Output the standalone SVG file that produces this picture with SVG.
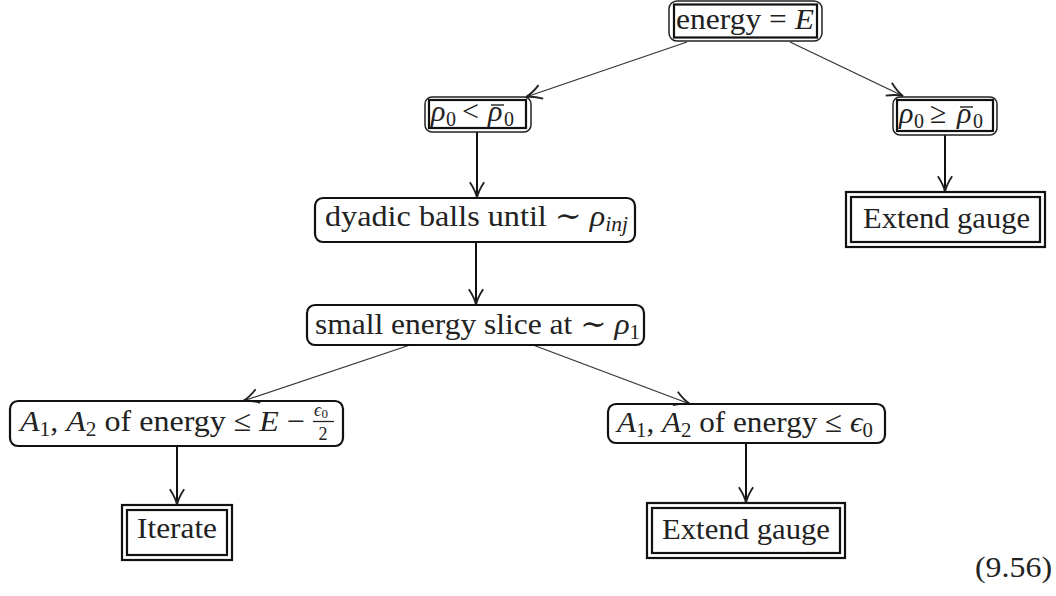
<svg xmlns="http://www.w3.org/2000/svg" width="1056" height="596" viewBox="0 0 1056 596">
<style>
text{font-family:"Liberation Serif","DejaVu Serif",serif;font-size:30px;fill:#222}
.i{font-style:italic}
.s{font-size:20px}
.f{font-size:18px}
.o{fill:none;stroke:#222;stroke-width:1.5}
.in{fill:none;stroke:#111;stroke-width:2.2}
.b{fill:none;stroke:#111;stroke-width:2.2}
.c{fill:none;stroke:#333;stroke-width:1.3}
.v{fill:none;stroke:#111;stroke-width:2}
.bar{stroke:#222;stroke-width:1.4}
</style>
<defs>
<marker id="ah" markerUnits="userSpaceOnUse" markerWidth="20" markerHeight="20" refX="0" refY="0" viewBox="-12 -7 14 14" orient="auto" overflow="visible">
<path d="M-11,-5 Q-5,-1 0,0 Q-5,1 -11,5" fill="none" stroke="#222" stroke-width="1.3"/>
</marker>
</defs>
<g id="connectors">
<line class="c" x1="687" y1="42" x2="526" y2="97" marker-end="url(#ah)"/>
<line class="c" x1="790" y1="42" x2="903" y2="96" marker-end="url(#ah)"/>
<line class="v" x1="477" y1="132" x2="477" y2="198" marker-end="url(#ah)"/>
<line class="v" x1="476" y1="242" x2="476" y2="305" marker-end="url(#ah)"/>
<line class="v" x1="945" y1="135" x2="945" y2="192" marker-end="url(#ah)"/>
<line class="c" x1="410" y1="345" x2="243" y2="401" marker-end="url(#ah)"/>
<line class="c" x1="533" y1="345" x2="690" y2="404" marker-end="url(#ah)"/>
<line class="v" x1="177" y1="446" x2="177" y2="505" marker-end="url(#ah)"/>
<line class="v" x1="746" y1="443" x2="746" y2="503" marker-end="url(#ah)"/>
</g>
<g id="n-energy">
<rect class="o" x="669" y="1" width="153" height="40" rx="8"/>
<rect class="in" x="674" y="4.5" width="143" height="33"/>
<text x="676" y="29" textLength="138" lengthAdjust="spacingAndGlyphs">energy = <tspan class="i">E</tspan></text>
</g>
<g id="n-rho-less">
<rect class="o" x="425" y="97" width="106" height="35" rx="7"/>
<rect class="in" x="429" y="100" width="97" height="28"/>
<text class="i" x="431" y="121">ρ</text>
<text class="s" x="446" y="126">0</text>
<text x="462" y="121">&lt;</text>
<text class="i" x="488" y="121">ρ</text>
<line class="bar" x1="491" y1="105" x2="504" y2="105"/>
<text class="s" x="504" y="126">0</text>
</g>
<g id="n-rho-geq">
<rect class="o" x="893" y="97" width="104" height="38" rx="7"/>
<rect class="in" x="897" y="100" width="96" height="31"/>
<text class="i" x="899" y="123">ρ</text>
<text class="s" x="914" y="128">0</text>
<text x="930" y="123">≥</text>
<text class="i" x="957" y="123">ρ</text>
<line class="bar" x1="960" y1="107" x2="973" y2="107"/>
<text class="s" x="973" y="128">0</text>
</g>
<g id="n-extend-top">
<rect class="b" x="846" y="192" width="199" height="55"/>
<rect class="b" x="851" y="197" width="189" height="45"/>
<text x="863" y="228" textLength="167" lengthAdjust="spacingAndGlyphs">Extend gauge</text>
</g>
<g id="n-dyadic">
<rect class="b" x="315" y="198" width="320" height="44" rx="8"/>
<text x="325" y="226" textLength="303" lengthAdjust="spacingAndGlyphs">dyadic balls until  ∼ <tspan class="i">ρ</tspan><tspan class="s i" dy="5">inj</tspan></text>
</g>
<g id="n-slice">
<rect class="b" x="307" y="305" width="337" height="40" rx="8"/>
<text x="315" y="334" textLength="325" lengthAdjust="spacingAndGlyphs">small energy slice at  ∼ <tspan class="i">ρ</tspan><tspan class="s" dy="5">1</tspan></text>
</g>
<g id="n-left">
<rect class="b" x="10" y="401" width="333" height="45" rx="8"/>
<text x="20" y="431" textLength="285" lengthAdjust="spacingAndGlyphs"><tspan class="i">A</tspan><tspan class="s" dy="5">1</tspan><tspan dy="-5">, </tspan><tspan class="i">A</tspan><tspan class="s" dy="5">2</tspan><tspan dy="-5"> of energy ≤ </tspan><tspan class="i">E</tspan> −</text>
<text class="f i" x="321" y="416" text-anchor="middle">ϵ<tspan font-style="normal" font-size="13" dy="2">0</tspan></text>
<line x1="313" y1="421.5" x2="334" y2="421.5" stroke="#222" stroke-width="1.3"/>
<text class="f" x="323" y="440" text-anchor="middle">2</text>
</g>
<g id="n-right">
<rect class="b" x="608" y="404" width="277" height="39" rx="8"/>
<text x="617" y="432" textLength="256" lengthAdjust="spacingAndGlyphs"><tspan class="i">A</tspan><tspan class="s" dy="5">1</tspan><tspan dy="-5">, </tspan><tspan class="i">A</tspan><tspan class="s" dy="5">2</tspan><tspan dy="-5"> of energy ≤ </tspan><tspan class="i">ϵ</tspan><tspan class="s" dy="5">0</tspan></text>
</g>
<g id="n-iterate">
<rect class="b" x="122" y="505" width="110" height="55"/>
<rect class="b" x="127" y="510" width="100" height="45"/>
<text x="137" y="538" textLength="80" lengthAdjust="spacingAndGlyphs">Iterate</text>
</g>
<g id="n-extend-bottom">
<rect class="b" x="647" y="503" width="198" height="55"/>
<rect class="b" x="652" y="508" width="188" height="45"/>
<text x="662" y="539" textLength="168" lengthAdjust="spacingAndGlyphs">Extend gauge</text>
</g>
<text x="975" y="577" textLength="77" lengthAdjust="spacingAndGlyphs">(9.56)</text>
</svg>
